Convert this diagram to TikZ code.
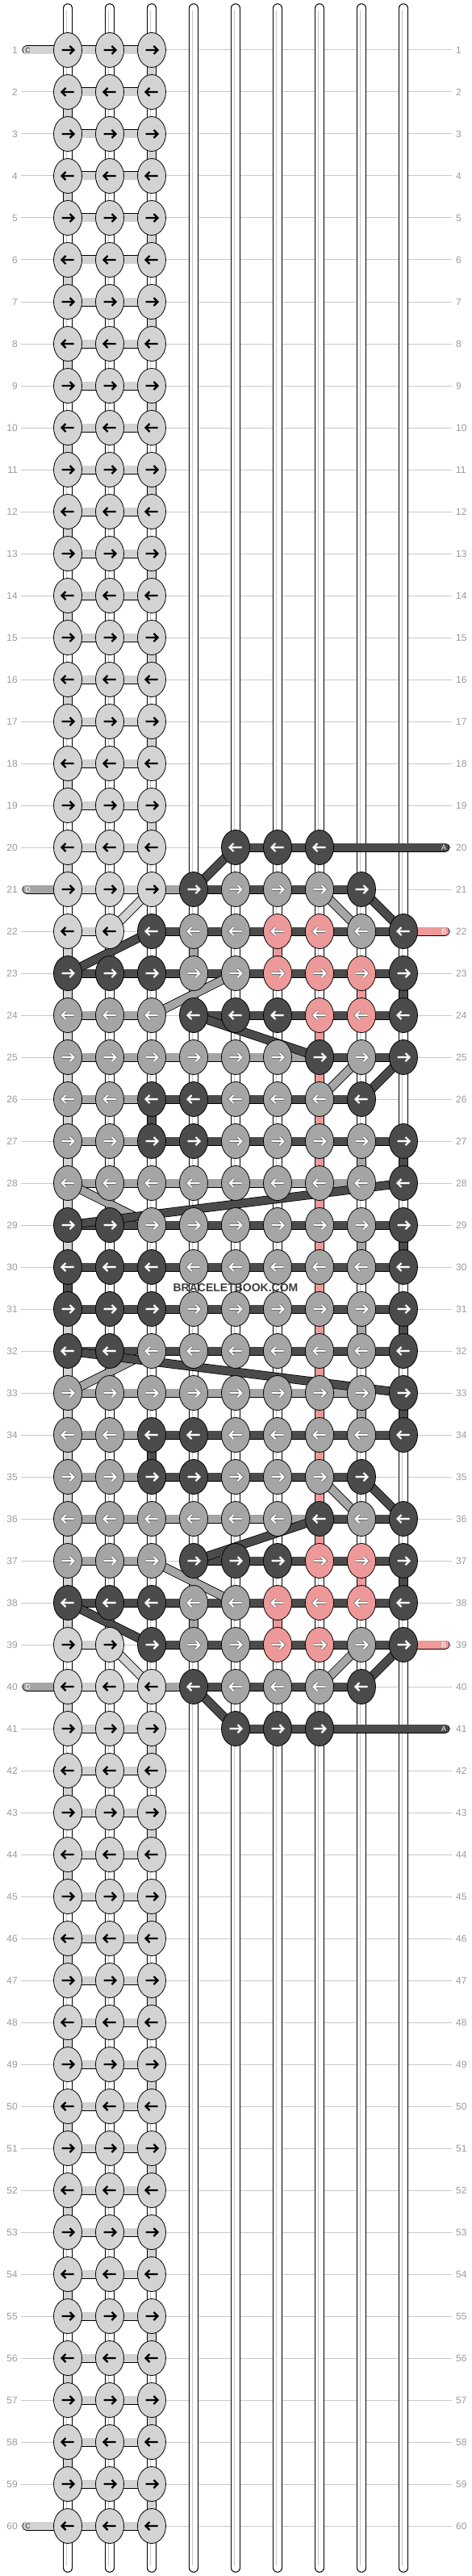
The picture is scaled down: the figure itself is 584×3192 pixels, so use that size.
\documentclass[tikz,border=0pt]{standalone}
\usepackage{fontspec}
\setmainfont{Liberation Sans}
\usetikzlibrary{shapes.geometric}
\definecolor{kL}{HTML}{D3D3D3}
\definecolor{kM}{HTML}{A5A5A5}
\definecolor{kD}{HTML}{4B4B4B}
\definecolor{kP}{HTML}{EE9999}
\definecolor{guide-grey}{HTML}{C8C8C8}
\definecolor{label-grey}{HTML}{9A9A9A}
\definecolor{mark-grey}{HTML}{3C3C3C}
\pgfdeclarelayer{back}
\pgfdeclarelayer{mid}
\pgfsetlayers{back,mid,main}

\def\noknot{N}
\def\tubeonly{W}
\def\lightknot{L}
\newcommand{\arrowpath}{(-7.5,0) -- (6.5,0) (2.5,-5) -- (7.5,0) -- (2.5,5)}

% a thread piece with black edges
\newcommand{\band}[4][]{%
  \edef\bandname{k#4}%
  \draw[bandline, #1] (#2) -- (#3);
  \draw[bandline, #1, line width=9.4pt, draw=\bandname] (#2) -- (#3);}

% knot: row, column, colour letter (N = none)
\newcommand{\knot}[3]{%
  \edef\knotcol{#3}\edef\knotfill{k#3}%
  \ifx\knotcol\noknot\else
    \node[knot, fill=\knotfill] (k-#1-#2) at ({32+52*#2},{10+52*#1}) {};
    \ifodd#1\relax\def\arrowdir{1}\else\def\arrowdir{-1}\fi
    \begin{scope}[shift={(k-#1-#2.center)}, xscale=\arrowdir]
      \ifx\knotcol\lightknot
        \draw[line width=2.3pt] \arrowpath;
      \else
        \draw[black!65, line width=3.5pt] \arrowpath;
        \draw[white, line width=2.1pt] \arrowpath;
      \fi
    \end{scope}
  \fi}

% piece between two knots of a row
\newcommand{\hband}[3]{%
  \edef\bandcol{#3}%
  \ifx\bandcol\noknot\else
    \pgfmathtruncatemacro\nextcol{#2+1}%
    \band{k-#1-#2.center}{k-#1-\nextcol.center}{\bandcol}%
  \fi}

% piece between a knot and the one below it
\newcommand{\vband}[3]{%
  \edef\bandcol{#3}%
  \ifx\bandcol\tubeonly\else
    \pgfmathtruncatemacro\nextrow{#1+1}%
    \band{k-#1-#2.center}{k-\nextrow-#2.center}{\bandcol}%
  \fi}

\begin{document}
\begin{tikzpicture}[x=1pt, y=-1pt,
    knot/.style={ellipse, draw=black, line width=0.8pt, minimum width=35pt,
                 minimum height=43pt, inner sep=0pt},
    bandline/.style={line width=11pt},
    rowlabel/.style={font=\fontsize{12}{12}\selectfont, text=label-grey, inner sep=0pt},
    endlabel/.style={font=\fontsize{9}{9}\selectfont, inner sep=0pt},
    guide/.style={draw=guide-grey, line width=1pt},
    tube/.style={line width=11.5pt, line cap=round}]
  \useasboundingbox (0,0) rectangle (584,3192);

  % knots
  \foreach \row in {1,...,19,42,43,...,60}
    \foreach \col in {1,2,3}
      {\knot{\row}{\col}{L}}
  \foreach \row/\knots in {
      20/{L,L,L,N,D,D,D,N,N},
      21/{L,L,L,D,M,M,M,D,N},
      22/{L,L,D,M,M,P,P,M,D},
      23/{D,D,D,M,M,P,P,P,D},
      24/{M,M,M,D,D,D,P,P,D},
      25/{M,M,M,M,M,M,D,M,D},
      26/{M,M,D,D,M,M,M,D,N},
      27/{M,M,D,D,M,M,M,M,D},
      28/{M,M,M,M,M,M,M,M,D},
      29/{D,D,M,M,M,M,M,M,D},
      30/{D,D,D,M,M,M,M,M,D}}
    {\pgfmathtruncatemacro\rr{61-\row}
     \foreach \cl [count=\col] in \knots
       {\knot{\row}{\col}{\cl}\knot{\rr}{\col}{\cl}}}

  \begin{pgfonlayer}{back}
    % row numbers and guide lines
    \foreach \row in {1,...,60} {
      \node[rowlabel, anchor=east] (ln-\row) at (22,{10+52*\row}) {\row};
      \node[rowlabel, anchor=west] (rn-\row) at (565,{10+52*\row}) {\row};
      \draw[guide] ([xshift=4pt]ln-\row.east) -- ([xshift=-5pt]rn-\row.west);
    }
    % base strings
    \foreach \col in {1,...,9} {
      \coordinate (top-\col) at ({32+52*\col},10);
      \coordinate (bot-\col) at ({32+52*\col},3182);
      \draw[tube] (top-\col) -- (bot-\col);
      \draw[tube, line width=9.5pt, white] (top-\col) -- (bot-\col);
      \draw[gray!45, line width=4.2pt] ([yshift=-3pt]top-\col) -- ([yshift=3pt]bot-\col);
      \draw[white, line width=3pt] ([yshift=-3pt]top-\col) -- ([yshift=3pt]bot-\col);
    }
  \end{pgfonlayer}

  \begin{pgfonlayer}{mid}
    % downward pieces
    \foreach \row in {1,...,18,42,43,...,59}
      {\ifodd\row\relax\vband{\row}{3}{L}\else\vband{\row}{1}{L}\fi}
    \foreach \row/\gaps in {
        19/{W,W,L,W,W,W,W,W,W},
        20/{L,W,W,W,W,W,W,W,W},
        21/{W,W,W,W,W,W,W,W,W},
        22/{L,W,W,M,W,P,W,W,W},
        23/{L,W,W,W,W,W,W,P,D},
        24/{L,W,W,W,W,W,P,W,W},
        25/{L,W,W,W,W,W,P,W,W},
        26/{L,W,D,W,W,W,P,W,W},
        27/{L,W,W,W,W,W,P,M,D},
        28/{L,W,W,W,W,W,P,W,W},
        29/{L,W,W,W,W,W,P,M,D},
        30/{D,W,W,W,W,W,P,W,W}}
      {\pgfmathtruncatemacro\rr{60-\row}
       \foreach \cl [count=\col] in \gaps
         {\vband{\row}{\col}{\cl}\vband{\rr}{\col}{\cl}}}

    % pieces along the rows
    \foreach \row in {1,...,19,42,43,...,60}
      {\hband{\row}{1}{L}\hband{\row}{2}{L}}
    \foreach \row/\links in {
        20/{L,L,N,N,D,D,N,N},
        21/{L,L,M,D,D,D,D,N},
        22/{L,N,D,D,D,D,D,D},
        23/{D,D,D,D,D,D,D,D},
        24/{M,M,N,D,D,D,D,D},
        25/{M,M,M,M,M,M,D,D},
        26/{M,M,D,D,D,D,D,N},
        27/{M,M,D,D,D,D,D,D},
        28/{M,M,M,M,M,M,M,N},
        29/{D,D,D,D,D,D,D,D},
        30/{D,D,D,D,D,D,D,D}}
      {\pgfmathtruncatemacro\rr{61-\row}
       \foreach \cl [count=\col] in \links
         {\hband{\row}{\col}{\cl}\hband{\rr}{\col}{\cl}}}

    % threads that jump across
    \foreach \ra/\ca/\rb/\cb/\cl in {20/5/21/4/D, 21/3/22/2/L, 21/7/22/8/M,
        21/8/22/9/D, 22/3/23/1/D, 23/5/24/3/M, 24/4/25/7/D, 26/7/25/8/M,
        26/8/25/9/D, 28/1/29/3/M, 28/9/29/1/D}
      {\pgfmathtruncatemacro\ma{61-\ra}\pgfmathtruncatemacro\mb{61-\rb}
       \band{k-\ra-\ca.center}{k-\rb-\cb.center}{\cl}
       \band{k-\ma-\ca.center}{k-\mb-\cb.center}{\cl}}

    % loose ends
    \coordinate (cend-1) at (33,62);
    \coordinate (cend-60) at (33,3130);
    \coordinate (dend-21) at (33,1102);
    \coordinate (dend-40) at (33,2090);
    \coordinate (aend-20) at (552,1050);
    \coordinate (aend-41) at (552,2142);
    \coordinate (bend-22) at (552,1154);
    \coordinate (bend-39) at (552,2038);
    \band[line cap=round]{cend-1}{k-1-1.center}{L}
    \band[line cap=round]{cend-60}{k-60-1.center}{L}
    \band[line cap=round]{dend-21}{k-21-1.center}{M}
    \band[line cap=round]{dend-40}{k-40-1.center}{M}
    \band[line cap=round]{k-20-7.center}{aend-20}{D}
    \band[line cap=round]{k-41-7.center}{aend-41}{D}
    \band[line cap=round]{k-22-9.center}{bend-22}{P}
    \band[line cap=round]{k-39-9.center}{bend-39}{P}
    \node[endlabel, text=black!80] (clab-1) at ([xshift=1.5pt]cend-1) {C};
    \node[endlabel, text=black!80] (clab-60) at ([xshift=1.5pt]cend-60) {C};
    \node[endlabel, text=white] (dlab-21) at ([xshift=1.5pt]dend-21) {D};
    \node[endlabel, text=white] (dlab-40) at ([xshift=1.5pt]dend-40) {D};
    \node[endlabel, text=white] (alab-20) at ([xshift=-2pt]aend-20) {A};
    \node[endlabel, text=white] (alab-41) at ([xshift=-2pt]aend-41) {A};
    \node[endlabel, text=white] (blab-22) at ([xshift=-2pt]bend-22) {B};
    \node[endlabel, text=white] (blab-39) at ([xshift=-2pt]bend-39) {B};
  \end{pgfonlayer}

  \node[font=\bfseries\fontsize{14}{14}\selectfont, text=mark-grey, inner sep=0pt]
    (mark) at (292,1596) {BRACELETBOOK.COM};
\end{tikzpicture}
\end{document}
